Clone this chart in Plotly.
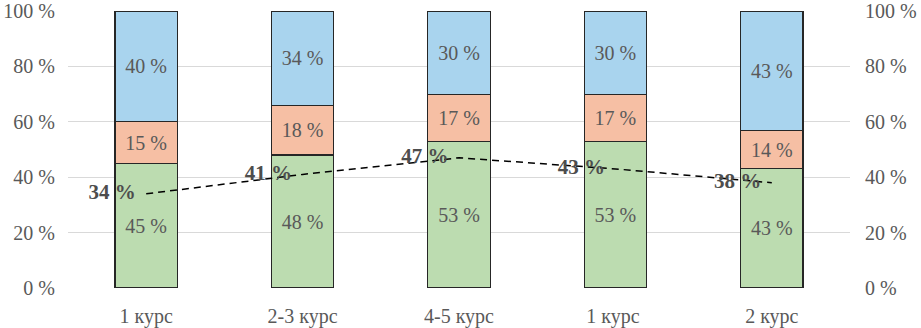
import plotly.graph_objects as go

categories = ["1 курс", "2-3 курс", "4-5 курс", "1 курс ", "2 курс"]
green_vals = [45, 48, 53, 53, 43]
orange_vals = [15, 18, 17, 17, 14]
blue_vals = [40, 34, 30, 30, 43]
line_vals = [34, 41, 47, 43, 38]
tick_vals = [0, 20, 40, 60, 80, 100]
tick_text = [f"{v} %" for v in tick_vals]

FONT = "Liberation Serif"
GRAY = "#595959"
FS = 20

fig = go.Figure()
for vals, color in [(green_vals, "#bcdcb0"), (orange_vals, "#f6bfa4"), (blue_vals, "#a9d4ee")]:
    fig.add_trace(go.Bar(
        x=categories, y=vals, marker=dict(color=color, line=dict(color="#262626", width=1.2)),
        text=[f"{v} %" for v in vals], textposition="inside", insidetextanchor="middle",
        textfont=dict(family=FONT, size=FS, color=GRAY), width=0.4, showlegend=False,
        cliponaxis=False, textangle=0, hoverinfo="skip",
    ))

fig.add_trace(go.Scatter(
    x=categories, y=line_vals, mode="lines+text", yaxis="y2",
    line=dict(color="black", width=1.5, dash="7px,5px"),
    text=[f"{v} %\u2002" for v in line_vals], textposition="middle left",
    textfont=dict(family=FONT, size=21, color="#4d4d4d", weight="bold"), showlegend=False,
    cliponaxis=False, hoverinfo="skip",
))

fig.update_layout(
    barmode="stack", width=921, height=328,
    margin=dict(l=68, r=71, t=11, b=40, autoexpand=False),
    paper_bgcolor="white", plot_bgcolor="white",
    font=dict(family=FONT, size=FS, color=GRAY),
    xaxis=dict(showline=False, ticks="", showgrid=False, ticklabelstandoff=14,
               tickfont=dict(family=FONT, size=FS, color=GRAY)),
    yaxis=dict(range=[0, 100], tickvals=tick_vals, ticktext=tick_text, showgrid=True,
               gridcolor="#d9d9d9", gridwidth=1, zeroline=False, showline=False,
               tickfont=dict(family=FONT, size=FS, color=GRAY), ticklabelstandoff=12,
               ticklabeloverflow="allow"),
    yaxis2=dict(range=[0, 100], tickvals=tick_vals, ticktext=tick_text, overlaying="y",
                side="right", showgrid=False, zeroline=False, showline=False,
                tickfont=dict(family=FONT, size=FS, color=GRAY), ticklabelstandoff=14,
                ticklabeloverflow="allow"),
)

fig.write_html("out.html", config={"displayModeBar": False},
               post_script="document.body.style.margin='0';document.body.style.overflow='hidden';")
